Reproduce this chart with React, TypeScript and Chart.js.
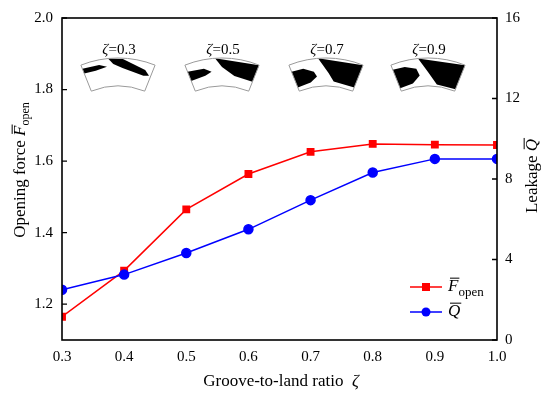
import { useEffect, useRef } from "react"
import Chart from "chart.js/auto"

const ratio = [0.3, 0.4, 0.5, 0.6, 0.7, 0.8, 0.9, 1.0]
const openingForce = [1.165, 1.294, 1.465, 1.564, 1.626, 1.648, 1.646, 1.645]
const leakage = [2.5, 3.25, 4.32, 5.5, 6.95, 8.32, 9.0, 9.0]

const xTicks = [0.3, 0.4, 0.5, 0.6, 0.7, 0.8, 0.9, 1.0]
const forceTicks = [1.2, 1.4, 1.6, 1.8, 2.0]
const leakageTicks = [0, 4, 8, 12, 16]

const insetLabels = ["0.3", "0.5", "0.7", "0.9"]

const SERIF = "'Liberation Serif', 'Times New Roman', serif"

type Seg = { text: string; italic?: boolean; sub?: boolean; over?: boolean }

// draws a piece of text made of segments, centred on (0,0) of the current transform
function richText(ctx: CanvasRenderingContext2D, segs: Seg[], size: number, subSize: number) {
  const fontOf = (s: Seg) => `${s.italic ? "italic " : ""}${s.sub ? subSize : size}px ${SERIF}`
  let total = 0
  const widths = segs.map((s) => {
    ctx.font = fontOf(s)
    const w = ctx.measureText(s.text).width
    total += w
    return w
  })
  let x = -total / 2
  ctx.textBaseline = "middle"
  ctx.textAlign = "left"
  ctx.fillStyle = "#000"
  segs.forEach((s, i) => {
    ctx.font = fontOf(s)
    const y = s.sub ? size * 0.3 : 0
    ctx.fillText(s.text, x, y)
    if (s.over) {
      ctx.strokeStyle = "#000"
      ctx.lineWidth = 1
      ctx.beginPath()
      ctx.moveTo(x + 2, -size * 0.52)
      ctx.lineTo(x + widths[i] + 1, -size * 0.52)
      ctx.stroke()
    }
    x += widths[i]
  })
}

// small groove sketches along the top of the plot
const grooveShapes: [number, number][][][] = [
  [
    [[-0.38, 96], [-0.38, 91], [-0.25, 90], [-0.12, 92], [-0.2, 95]],
    [[-0.1, 100], [0.05, 99], [0.3, 92], [0.36, 88], [0.3, 86], [0.05, 90], [-0.05, 94]],
  ],
  [
    [[-0.38, 93], [-0.38, 83], [-0.2, 84], [-0.12, 87], [-0.2, 91]],
    [[-0.07, 100], [0.38, 100], [0.38, 82], [0.15, 83], [0.0, 91]],
  ],
  [
    [[-0.38, 93], [-0.38, 76], [-0.2, 77], [-0.11, 82], [-0.14, 87], [-0.25, 92]],
    [[-0.08, 100], [0.38, 100], [0.38, 76], [0.1, 77], [0.03, 85]],
  ],
  [
    [[-0.38, 95], [-0.38, 75], [-0.2, 76], [-0.1, 83], [-0.13, 90], [-0.25, 94]],
    [[-0.1, 100], [0.38, 100], [0.38, 74], [0.12, 74], [0.0, 86]],
  ],
]
const insetX = [118, 222, 326, 428]

const decorPlugin = {
  id: "decor",
  afterDatasetsDraw(chart: any) {
    const ctx: CanvasRenderingContext2D = chart.ctx
    const { left, right, top, bottom } = chart.chartArea
    const y = chart.scales.y
    const y1 = chart.scales.y1
    ctx.save()

    // frame
    ctx.strokeStyle = "#000"
    ctx.lineWidth = 1.6
    ctx.strokeRect(left, top, right - left, bottom - top)

    // inward ticks
    ctx.lineWidth = 1.3
    ctx.beginPath()
    forceTicks.forEach((v) => {
      const p = y.getPixelForValue(v)
      ctx.moveTo(left, p)
      ctx.lineTo(left + 5, p)
    })
    leakageTicks.forEach((v) => {
      const p = y1.getPixelForValue(v)
      ctx.moveTo(right, p)
      ctx.lineTo(right - 5, p)
    })
    ctx.stroke()

    // insets
    insetLabels.forEach((lab, i) => {
      const cx = insetX[i]
      const cy = 58 + 100
      const pt = (t: number, r: number): [number, number] => [cx + r * Math.sin(t), cy - r * Math.cos(t)]
      ctx.fillStyle = "#000"
      grooveShapes[i].forEach((poly) => {
        ctx.beginPath()
        poly.forEach(([t, r], k) => {
          const [px, py] = pt(t, r)
          if (k === 0) ctx.moveTo(px, py)
          else ctx.lineTo(px, py)
        })
        ctx.closePath()
        ctx.fill()
      })
      ctx.strokeStyle = "#9a9a9a"
      ctx.lineWidth = 1
      ctx.beginPath()
      ctx.arc(cx, cy, 100, -Math.PI / 2 - 0.38, -Math.PI / 2 + 0.38)
      const [ex, ey] = pt(0.38, 72)
      ctx.lineTo(ex, ey)
      ctx.arc(cx, cy, 72, -Math.PI / 2 + 0.38, -Math.PI / 2 - 0.38, true)
      ctx.closePath()
      ctx.stroke()

      ctx.save()
      ctx.translate(cx + 1, 50)
      richText(ctx, [{ text: "ζ", italic: true }, { text: "=" + lab }], 15, 15)
      ctx.restore()
    })

    // legend
    const items = [
      { color: "#ff0000", style: "rect", y: 287, segs: [{ text: "F", italic: true, over: true }, { text: "open", sub: true }] },
      { color: "#0000ff", style: "circle", y: 312, segs: [{ text: "Q", italic: true, over: true }] },
    ]
    items.forEach((it) => {
      ctx.strokeStyle = it.color
      ctx.fillStyle = it.color
      ctx.lineWidth = 1.5
      ctx.beginPath()
      ctx.moveTo(410, it.y)
      ctx.lineTo(442, it.y)
      ctx.stroke()
      ctx.beginPath()
      if (it.style === "rect") ctx.rect(422, it.y - 4, 8, 8)
      else ctx.arc(426, it.y, 4.5, 0, Math.PI * 2)
      ctx.fill()
      ctx.save()
      ctx.font = `italic 17px ${SERIF}`
      let w = 0
      it.segs.forEach((s: Seg) => {
        ctx.font = `${s.italic ? "italic " : ""}${s.sub ? 13 : 17}px ${SERIF}`
        w += ctx.measureText(s.text).width
      })
      ctx.translate(448 + w / 2, it.y)
      richText(ctx, it.segs, 17, 13)
      ctx.restore()
    })

    // axis titles
    ctx.save()
    ctx.translate(21, 170)
    ctx.rotate(-Math.PI / 2)
    richText(ctx, [{ text: "Opening force " }, { text: "F", italic: true, over: true }, { text: "open", sub: true }], 17, 12)
    ctx.restore()

    ctx.save()
    ctx.translate(533, 176)
    ctx.rotate(-Math.PI / 2)
    richText(ctx, [{ text: "Leakage " }, { text: "Q", italic: true, over: true }], 17, 12)
    ctx.restore()

    ctx.save()
    ctx.translate(281, 382)
    richText(ctx, [{ text: "Groove-to-land ratio  " }, { text: "ζ", italic: true }], 17, 12)
    ctx.restore()

    ctx.restore()
  },
}

export default function App() {
  const chartRef = useRef<HTMLCanvasElement>(null)
  const chartInstance = useRef<Chart | null>(null)

  useEffect(() => {
    document.body.style.margin = "0"
    if (!chartRef.current) return
    if (chartInstance.current) chartInstance.current.destroy()

    const tickFont = { family: SERIF, size: 15 }
    const ctx = chartRef.current.getContext("2d")
    if (ctx) {
      chartInstance.current = new Chart(ctx, {
        type: "line",
        data: {
          datasets: [
            {
              label: "F open",
              data: ratio.map((x, i) => ({ x, y: openingForce[i] })),
              yAxisID: "y",
              borderColor: "#ff0000",
              backgroundColor: "#ff0000",
              borderWidth: 1.5,
              pointStyle: "rect",
              pointRadius: 4.5,
              order: 2,
            },
            {
              label: "Q",
              data: ratio.map((x, i) => ({ x, y: leakage[i] })),
              yAxisID: "y1",
              borderColor: "#0000ff",
              backgroundColor: "#0000ff",
              borderWidth: 1.5,
              pointStyle: "circle",
              pointRadius: 4.5,
              order: 1,
            },
          ],
        },
        options: {
          responsive: true,
          maintainAspectRatio: false,
          animation: false,
          layout: { padding: { top: 15, left: 0, right: 0, bottom: 0 } },
          plugins: {
            legend: { display: false },
            tooltip: { enabled: false },
          },
          scales: {
            x: {
              type: "linear",
              min: 0.3,
              max: 1.0,
              grid: { display: false, drawTicks: false },
              border: { display: false },
              ticks: { font: tickFont, color: "#000", padding: 8, callback: (v: any) => Number(v).toFixed(1) },
              afterBuildTicks: (s: any) => {
                s.ticks = xTicks.map((value) => ({ value }))
              },
              afterFit: (s: any) => {
                s.height = 61
              },
            },
            y: {
              position: "left",
              min: 1.1,
              max: 2.0,
              grid: { display: false, drawTicks: false },
              border: { display: false },
              ticks: { font: tickFont, color: "#000", padding: 9, callback: (v: any) => Number(v).toFixed(1) },
              afterBuildTicks: (s: any) => {
                s.ticks = forceTicks.map((value) => ({ value }))
              },
              afterFit: (s: any) => {
                s.width = 62
              },
            },
            y1: {
              position: "right",
              min: 0,
              max: 16,
              grid: { display: false, drawTicks: false },
              border: { display: false },
              ticks: { font: tickFont, color: "#000", padding: 8 },
              afterBuildTicks: (s: any) => {
                s.ticks = leakageTicks.map((value) => ({ value }))
              },
              afterFit: (s: any) => {
                s.width = 53
              },
            },
          },
        },
        plugins: [decorPlugin],
      })
    }

    return () => {
      if (chartInstance.current) {
        chartInstance.current.destroy()
        chartInstance.current = null
      }
    }
  }, [])

  return (
    <div style={{ width: 550, height: 401, position: "relative", background: "#fff" }}>
      <canvas ref={chartRef}></canvas>
    </div>
  )
}
